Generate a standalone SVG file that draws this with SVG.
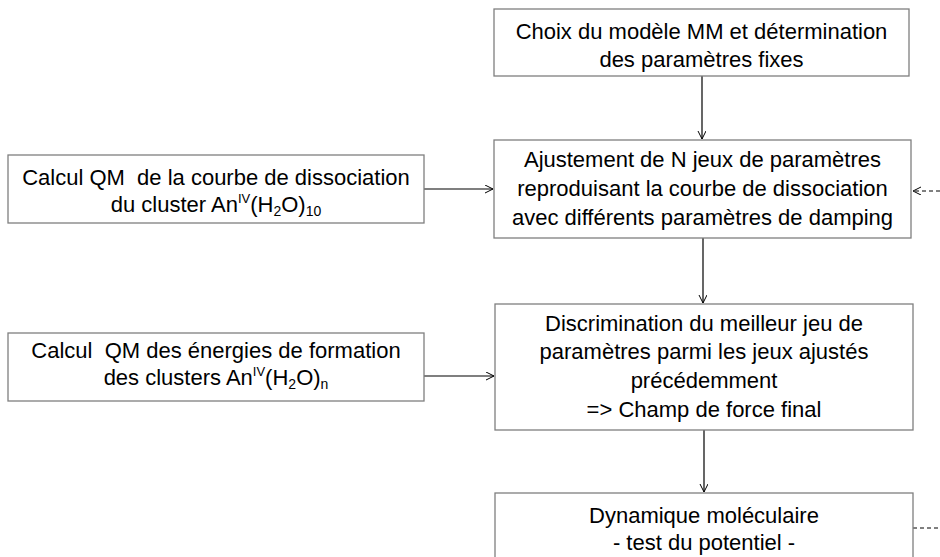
<svg xmlns="http://www.w3.org/2000/svg" width="940" height="557" viewBox="0 0 940 557">
<style>
.box{fill:#fff;stroke:#7f7f7f;stroke-width:1.3}
.t{font-family:"Liberation Sans",Arial,sans-serif;font-size:22px;fill:#000;text-anchor:middle}
.c{stroke:#000;stroke-width:1.2;fill:none}
.d{stroke:#000;stroke-width:1;fill:none;stroke-dasharray:4 3}
</style>
<defs>
<marker id="ah" markerWidth="10" markerHeight="10" refX="8" refY="4" orient="auto" markerUnits="userSpaceOnUse">
<path d="M0,0 L8,4 L0,8" fill="none" stroke="#000" stroke-width="1"/>
</marker>
</defs>
<rect width="940" height="557" fill="#fff"/>
<g id="connectors">
<line class="c" x1="702" y1="76" x2="702" y2="139" marker-end="url(#ah)"/>
<line class="c" x1="424" y1="189" x2="493" y2="189" marker-end="url(#ah)"/>
<line class="c" x1="703" y1="238" x2="703" y2="303" marker-end="url(#ah)"/>
<line class="c" x1="424" y1="376" x2="494" y2="376" marker-end="url(#ah)"/>
<line class="c" x1="704" y1="430" x2="704" y2="492" marker-end="url(#ah)"/>
<line class="d" x1="940" y1="191" x2="913" y2="191" marker-end="url(#ah)"/>
<line class="d" x1="913" y1="528" x2="940" y2="528"/>
</g>
<g id="n1">
<rect class="box" x="494" y="9" width="415" height="67"/>
<text class="t" x="701.5" y="39">Choix du modèle MM et détermination</text>
<text class="t" x="701.5" y="67">des paramètres fixes</text>
</g>
<g id="n2">
<rect class="box" x="494" y="140" width="417" height="98"/>
<text class="t" x="702.5" y="167">Ajustement de N jeux de paramètres</text>
<text class="t" x="702.5" y="196">reproduisant la courbe de dissociation</text>
<text class="t" x="702.5" y="225">avec différents paramètres de damping</text>
</g>
<g id="n3">
<rect class="box" x="8" y="155" width="416" height="68"/>
<text class="t" x="216" y="185" xml:space="preserve">Calcul QM  de la courbe de dissociation</text>
<text class="t" x="216" y="212">du cluster An<tspan font-size="13" dy="-9">IV</tspan><tspan dy="9">(H</tspan><tspan font-size="14" dy="4">2</tspan><tspan dy="-4">O)</tspan><tspan font-size="14" dy="4">10</tspan></text>
</g>
<g id="n4">
<rect class="box" x="8" y="333" width="416" height="68"/>
<text class="t" x="216" y="358" xml:space="preserve">Calcul  QM des énergies de formation</text>
<text class="t" x="216" y="385">des clusters An<tspan font-size="13" dy="-9">IV</tspan><tspan dy="9">(H</tspan><tspan font-size="14" dy="4">2</tspan><tspan dy="-4">O)</tspan><tspan font-size="14" dy="4">n</tspan></text>
</g>
<g id="n5">
<rect class="box" x="495" y="304" width="418" height="126"/>
<text class="t" x="704" y="331">Discrimination du meilleur jeu de</text>
<text class="t" x="704" y="359">paramètres parmi les jeux ajustés</text>
<text class="t" x="704" y="388">précédemment</text>
<text class="t" x="704" y="417">=&gt; Champ de force final</text>
</g>
<g id="n6">
<rect class="box" x="495" y="493" width="418" height="80"/>
<text class="t" x="704" y="523">Dynamique moléculaire</text>
<text class="t" x="704" y="550">- test du potentiel -</text>
</g>
</svg>
